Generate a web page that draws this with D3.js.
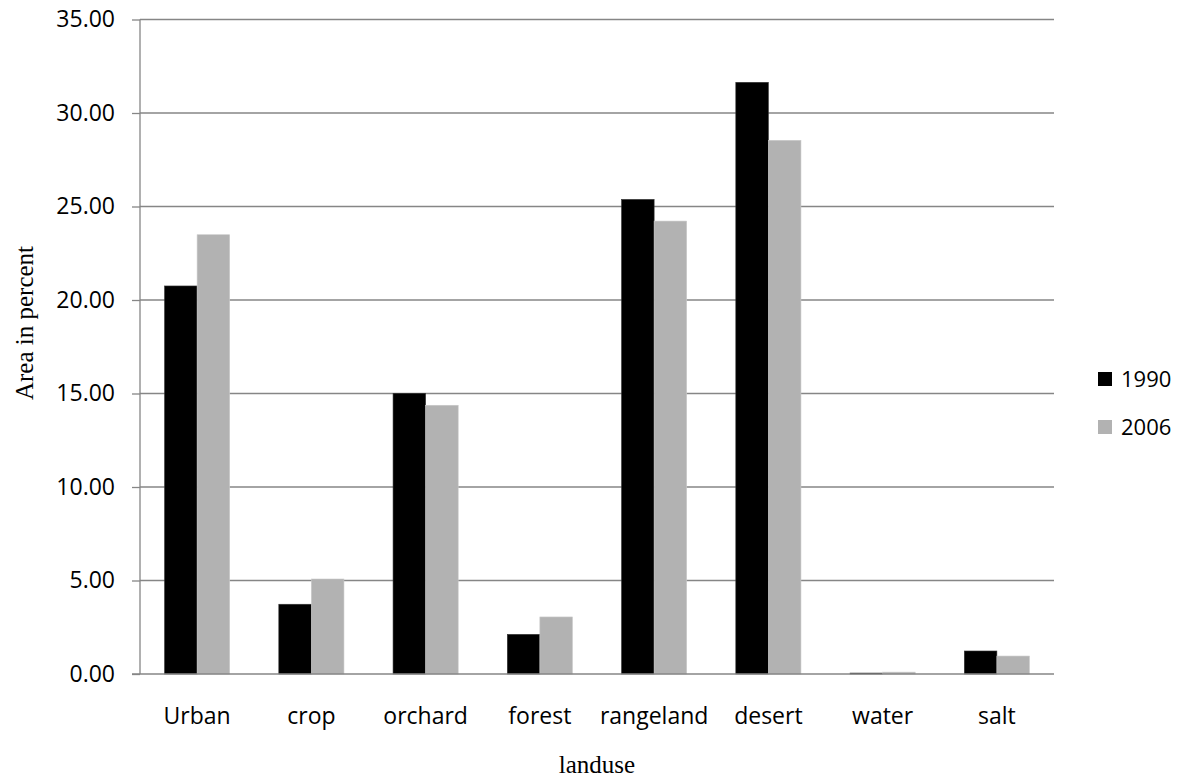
<!DOCTYPE html>
<html>
<head>
<meta charset="utf-8">
<script src="https://cdn.jsdelivr.net/npm/d3@7"></script>
<style>
  html, body { margin: 0; padding: 0; background: #fff; }
  svg { display: block; }
</style>
</head>
<body>
<svg id="chart" width="1179" height="782"></svg>
<script>
// Land use share by category, two survey years
const categories = ["Urban", "crop", "orchard", "forest", "rangeland", "desert", "water", "salt"];
const years = ["1990", "2006"];
const values1990 = [20.75, 3.73, 15.01, 2.12, 25.38, 31.64, 0.05, 1.23];
const values2006 = [23.49, 5.08, 14.37, 3.05, 24.22, 28.54, 0.10, 0.96];
const yTicks = [0, 5, 10, 15, 20, 25, 30, 35];
const seriesColors = ["#000000", "#b2b2b2"];

const series = [values1990, values2006];

const svg = d3.select("#chart");
const plot = { left: 140, right: 1054, top: 19.5, bottom: 674 };

const x = d3.scaleBand()
  .domain(categories)
  .range([plot.left, plot.right])
  .paddingInner(0.43)
  .paddingOuter(0.215);

const xs = d3.scaleBand()
  .domain(years)
  .range([0, x.bandwidth()]);

const y = d3.scaleLinear()
  .domain([0, 35])
  .range([plot.bottom, plot.top]);

const labelFont = "'Open Sans', sans-serif";
const serifFont = "'Liberation Serif', 'Times New Roman', serif";

// horizontal gridlines
svg.append("g")
  .selectAll("line")
  .data(yTicks.filter(d => d > 0))
  .join("line")
  .attr("x1", plot.left)
  .attr("x2", plot.right)
  .attr("y1", d => y(d))
  .attr("y2", d => y(d))
  .attr("stroke", "#868686")
  .attr("stroke-width", 1.3);

// bars
years.forEach((yr, i) => {
  svg.append("g")
    .selectAll("rect")
    .data(categories)
    .join("rect")
    .attr("x", c => x(c) + xs(yr))
    .attr("width", xs.bandwidth())
    .attr("y", (c, j) => y(series[i][j]))
    .attr("height", (c, j) => y(0) - y(series[i][j]))
    .attr("fill", seriesColors[i])
    .attr("stroke", i === 0 ? "#333" : "#c8c8c8")
    .attr("stroke-width", 0.6);
});

// y axis
const yAxis = d3.axisLeft(y)
  .tickValues(yTicks)
  .tickSize(8)
  .tickPadding(17)
  .tickFormat(d3.format(".2f"));

const ya = svg.append("g")
  .attr("transform", `translate(${plot.left},0)`)
  .call(yAxis);
ya.select(".domain").attr("stroke", "#868686").attr("stroke-width", 1.3)
  .attr("d", `M0,${plot.top}V${plot.bottom}`);
ya.selectAll(".tick line").attr("stroke", "#868686").attr("stroke-width", 1.3);
ya.selectAll(".tick text")
  .attr("font-family", labelFont)
  .attr("font-size", 23)
  .attr("fill", "#000");

// x axis baseline and category labels
const xAxis = d3.axisBottom(x).tickSize(0).tickPadding(34);
const xa = svg.append("g")
  .attr("transform", `translate(0,${plot.bottom})`)
  .call(xAxis);
xa.select(".domain").attr("stroke", "#868686").attr("stroke-width", 1.3)
  .attr("d", `M${plot.left - 8},0H${plot.right}`);
xa.selectAll(".tick text")
  .attr("font-family", labelFont)
  .attr("font-size", 23)
  .attr("fill", "#000");

// axis titles
svg.append("text")
  .attr("x", (plot.left + plot.right) / 2)
  .attr("y", 773)
  .attr("text-anchor", "middle")
  .attr("font-family", serifFont)
  .attr("font-size", 25)
  .text("landuse");

svg.append("text")
  .attr("transform", "translate(33,323) rotate(-90)")
  .attr("text-anchor", "middle")
  .attr("font-family", serifFont)
  .attr("font-size", 25)
  .text("Area in percent");

// legend
const legend = svg.append("g")
  .selectAll("g")
  .data(years)
  .join("g")
  .attr("transform", (d, i) => `translate(1098,${372 + i * 48})`);
legend.append("rect")
  .attr("width", 14)
  .attr("height", 14)
  .attr("fill", (d, i) => seriesColors[i]);
legend.append("text")
  .attr("x", 23)
  .attr("y", 7)
  .attr("dy", "0.35em")
  .attr("font-family", labelFont)
  .attr("font-size", 22)
  .text(d => d);
</script>
</body>
</html>
